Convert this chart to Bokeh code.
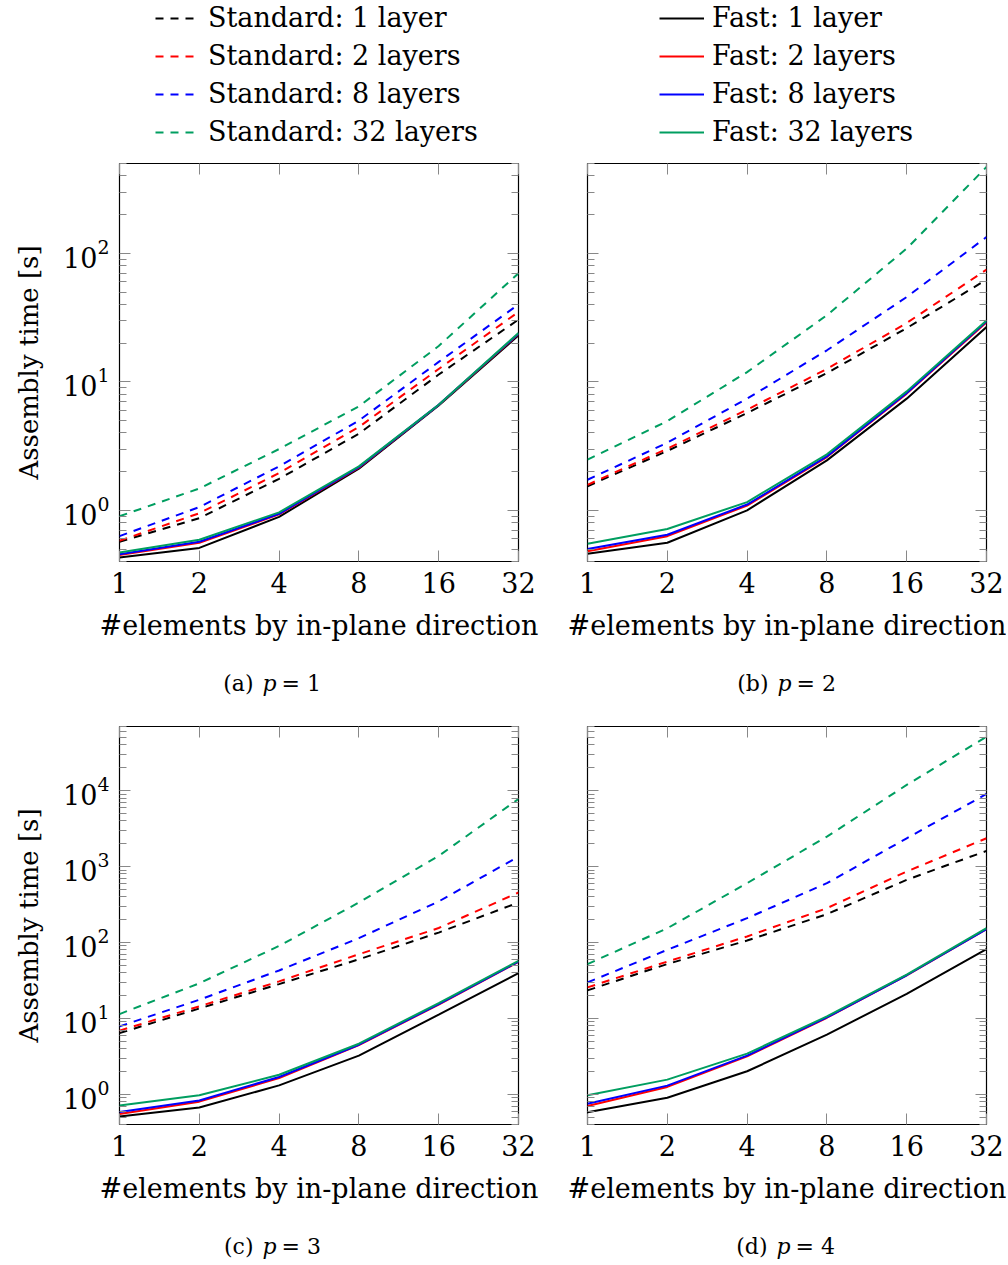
import math
from bokeh.plotting import figure
from bokeh.models import (LogAxis, FixedTicker, Label, Legend, LegendItem, Range1d,
                          BasicTickFormatter, CustomJSTickFormatter)
from bokeh.layouts import column, row
from bokeh.embed import file_html
from bokeh.resources import INLINE

# ---------------- data ----------------
x_elements = [1, 2, 4, 8, 16, 32]
x_tick_labels = ["1", "2", "4", "8", "16", "32"]
layer_counts = [1, 2, 8, 32]

# p = 1
p1_std_1 = [0.57, 0.87, 1.76, 3.95, 11.4, 30.5]
p1_std_2 = [0.58, 0.95, 1.95, 4.45, 12.6, 35.0]
p1_std_8 = [0.63, 1.06, 2.2, 5.0, 14.3, 40.0]
p1_std_32 = [0.90, 1.48, 3.0, 6.45, 19.0, 70.0]
p1_fast_1 = [0.43, 0.51, 0.89, 2.11, 6.55, 23.0]
p1_fast_2 = [0.45, 0.56, 0.93, 2.15, 6.6, 23.5]
p1_fast_8 = [0.455, 0.57, 0.94, 2.17, 6.62, 23.7]
p1_fast_32 = [0.47, 0.59, 0.965, 2.2, 6.64, 24.0]

# p = 2
p2_std_1 = [1.54, 2.9, 5.72, 11.7, 26.2, 62.4]
p2_std_2 = [1.58, 3.02, 6.07, 12.6, 28.7, 74.6]
p2_std_8 = [1.73, 3.36, 7.4, 17.6, 45.7, 134.0]
p2_std_32 = [2.48, 4.95, 11.9, 33.0, 109.0, 470.0]
p2_fast_1 = [0.46, 0.56, 1.0, 2.45, 7.4, 26.7]
p2_fast_2 = [0.48, 0.63, 1.09, 2.6, 8.1, 29.0]
p2_fast_8 = [0.50, 0.646, 1.11, 2.63, 8.2, 29.5]
p2_fast_32 = [0.55, 0.716, 1.16, 2.73, 8.43, 30.0]

# p = 3
p3_std_1 = [6.4, 13.5, 28.3, 60.0, 135.0, 336.0]
p3_std_2 = [6.9, 14.4, 30.7, 70.0, 155.0, 455.0]
p3_std_8 = [7.85, 17.6, 42.8, 114.0, 347.0, 1350.0]
p3_std_32 = [11.4, 29.0, 90.0, 336.0, 1380.0, 7770.0]
p3_fast_1 = [0.51, 0.67, 1.31, 3.23, 11.2, 39.5]
p3_fast_2 = [0.55, 0.80, 1.64, 4.45, 15.2, 55.5]
p3_fast_8 = [0.586, 0.83, 1.69, 4.5, 15.4, 56.0]
p3_fast_32 = [0.71, 0.97, 1.81, 4.64, 15.9, 57.4]

# p = 4
p4_std_1 = [23.4, 52.0, 106.0, 236.0, 668.0, 1607.0]
p4_std_2 = [25.6, 56.0, 120.0, 283.0, 860.0, 2360.0]
p4_std_8 = [29.8, 80.0, 209.0, 604.0, 2360.0, 9040.0]
p4_std_32 = [51.9, 154.0, 604.0, 2480.0, 11900.0, 51300.0]
p4_fast_1 = [0.58, 0.90, 2.01, 6.1, 21.1, 81.7]
p4_fast_2 = [0.70, 1.25, 3.16, 10.2, 36.8, 150.0]
p4_fast_8 = [0.75, 1.30, 3.23, 10.3, 37.0, 150.0]
p4_fast_32 = [0.97, 1.56, 3.43, 10.6, 37.6, 154.0]

y_range_top = (0.4, 500.0)
y_range_bottom = (0.4, 70000.0)
y_major_top = [1, 10, 100]
y_major_bottom = [1, 10, 100, 1000, 10000]

std_labels = ["Standard: 1 layer", "Standard: 2 layers", "Standard: 8 layers", "Standard: 32 layers"]
fast_labels = ["Fast: 1 layer", "Fast: 2 layers", "Fast: 8 layers", "Fast: 32 layers"]
captions = [("(a)", "1"), ("(b)", "2"), ("(c)", "3"), ("(d)", "4")]
x_axis_title = "#elements by in-plane direction"
y_axis_title = "Assembly time [s]"

# ---------------- style ----------------
FONT = "DejaVu Serif"
COLORS = ["#000000", "#ff0000", "#0000ff", "#009e60"]
DASH = "8 7"
LW = 2
FS = "27px"
TICK_COLOR = "#888888"


def minor_ticks(lo, hi):
    out = []
    k0 = math.floor(math.log10(lo))
    k1 = math.ceil(math.log10(hi))
    for k in range(k0, k1 + 1):
        for m in range(2, 10):
            v = m * 10 ** k
            if lo <= v <= hi:
                out.append(v)
    return out


def style_axis(ax, labels=True):
    ax.axis_line_color = None
    ax.major_tick_in = 11
    ax.major_tick_out = 0
    ax.minor_tick_in = 7
    ax.minor_tick_out = 0
    ax.major_tick_line_color = TICK_COLOR
    ax.minor_tick_line_color = TICK_COLOR
    ax.major_label_text_font = FONT
    ax.major_label_text_font_size = FS if labels else "0px"
    ax.major_label_text_color = "black"
    ax.axis_label_text_font = FONT
    ax.axis_label_text_font_size = FS
    ax.axis_label_text_font_style = "normal"
    ax.axis_label_text_color = "black"
    if not labels:
        ax.formatter = CustomJSTickFormatter(code="return ''")
        ax.major_label_standoff = 0


def make_panel(series_std, series_fast, yr, ymajor, show_y,
               mb_left, mb_right, mb_top, mb_bottom):
    p = figure(frame_width=399, frame_height=398,
               x_axis_type="log", y_axis_type="log",
               x_range=Range1d(1, 32), y_range=Range1d(*yr),
               output_backend="svg", toolbar_location=None,
               min_border_left=mb_left, min_border_right=mb_right,
               min_border_top=mb_top, min_border_bottom=mb_bottom,
               background_fill_color="white", border_fill_color="white")
    p.outline_line_color = "black"
    p.outline_line_width = 1.2
    p.grid.visible = False

    xt = FixedTicker(ticks=x_elements, minor_ticks=[])
    yt = FixedTicker(ticks=ymajor, minor_ticks=minor_ticks(*yr))

    xa = p.xaxis[0]
    xa.ticker = xt
    xa.formatter = BasicTickFormatter(use_scientific=False)
    xa.major_label_overrides = {v: s for v, s in zip(x_elements, x_tick_labels)}
    style_axis(xa, True)
    xa.major_label_standoff = 10
    xa.axis_label = x_axis_title
    xa.axis_label_standoff = 14

    ya = p.yaxis[0]
    ya.ticker = yt
    style_axis(ya, show_y)
    if show_y:
        ya.major_label_standoff = 10
        ya.axis_label = y_axis_title
        ya.axis_label_standoff = 16
        ya.axis_label_text_font_size = "26px"

    top = LogAxis(ticker=xt)
    style_axis(top, False)
    p.add_layout(top, "above")
    right = LogAxis(ticker=yt)
    style_axis(right, False)
    p.add_layout(right, "right")

    for vals, col in zip(series_std, COLORS):
        p.line(x_elements, vals, line_color=col, line_width=LW, line_dash=DASH)
    for vals, col in zip(series_fast, COLORS):
        p.line(x_elements, vals, line_color=col, line_width=LW)
    return p


def blank_fig(width, height, left=0):
    f = figure(width=width, height=height, x_range=Range1d(0, 1), y_range=Range1d(0, 1),
               x_axis_location=None, y_axis_location=None, toolbar_location=None,
               output_backend="svg", min_border_left=left, min_border_right=0,
               min_border_top=0, min_border_bottom=0, outline_line_color=None,
               background_fill_color="white", border_fill_color="white")
    f.xgrid.visible = False
    f.ygrid.visible = False
    return f


def make_caption(width, height, cap, cx, cy):
    # cx is measured from the left edge of the panel frame above (frames align in columns)
    f = blank_fig(width, height)
    letter, pv = cap
    common = dict(x_units="screen", y_units="screen", y=cy, text_font=FONT,
                  text_font_size="22px", text_baseline="middle", text_color="black")
    f.add_layout(Label(x=cx - 19, text=letter, text_align="right", **common))
    f.add_layout(Label(x=cx - 3, text="p", text_align="center",
                       text_font_style="italic", **common))
    f.add_layout(Label(x=cx + 9, text="= " + pv, text_align="left", **common))
    return f


def make_legend_fig(width, labels, dashed, left):
    lf = blank_fig(width, 148, left)
    items = []
    for lab, col in zip(labels, COLORS):
        kw = dict(line_color=col, line_width=LW)
        if dashed:
            kw["line_dash"] = DASH
        r = lf.line(x=[5, 6], y=[5, 6], **kw)
        items.append(LegendItem(label=lab, renderers=[r]))
    leg = Legend(items=items, location="top_left", glyph_width=45, glyph_height=20,
                 label_standoff=8, label_text_font=FONT, label_text_font_size=FS,
                 label_text_color="black",
                 label_height=20, spacing=7, padding=0, margin=2,
                 border_line_color=None, background_fill_alpha=0)
    lf.add_layout(leg)
    return lf


leg_a = make_legend_fig(512, std_labels, True, 153)
leg_b = make_legend_fig(494, fast_labels, False, 145)

pa = make_panel([p1_std_1, p1_std_2, p1_std_8, p1_std_32],
                [p1_fast_1, p1_fast_2, p1_fast_8, p1_fast_32],
                y_range_top, y_major_top, True, 119, 27, 15, 94)
pb = make_panel([p2_std_1, p2_std_2, p2_std_8, p2_std_32],
                [p2_fast_1, p2_fast_2, p2_fast_8, p2_fast_32],
                y_range_top, y_major_top, False, 42, 20, 15, 94)
pc = make_panel([p3_std_1, p3_std_2, p3_std_8, p3_std_32],
                [p3_fast_1, p3_fast_2, p3_fast_8, p3_fast_32],
                y_range_bottom, y_major_bottom, True, 119, 27, 21, 94)
pd = make_panel([p4_std_1, p4_std_2, p4_std_8, p4_std_32],
                [p4_fast_1, p4_fast_2, p4_fast_8, p4_fast_32],
                y_range_bottom, y_major_bottom, False, 42, 20, 21, 94)

ca = make_caption(545, 50, captions[0], 153, 22)
cb = make_caption(461, 50, captions[1], 200, 22)
cc = make_caption(545, 42, captions[2], 153, 14)
cd = make_caption(461, 42, captions[3], 199, 14)

layout = column(row(leg_a, leg_b),
                row(column(pa, ca), column(pb, cb)),
                row(column(pc, cc), column(pd, cd)))

open("out.html", "w").write(file_html(layout, INLINE))
